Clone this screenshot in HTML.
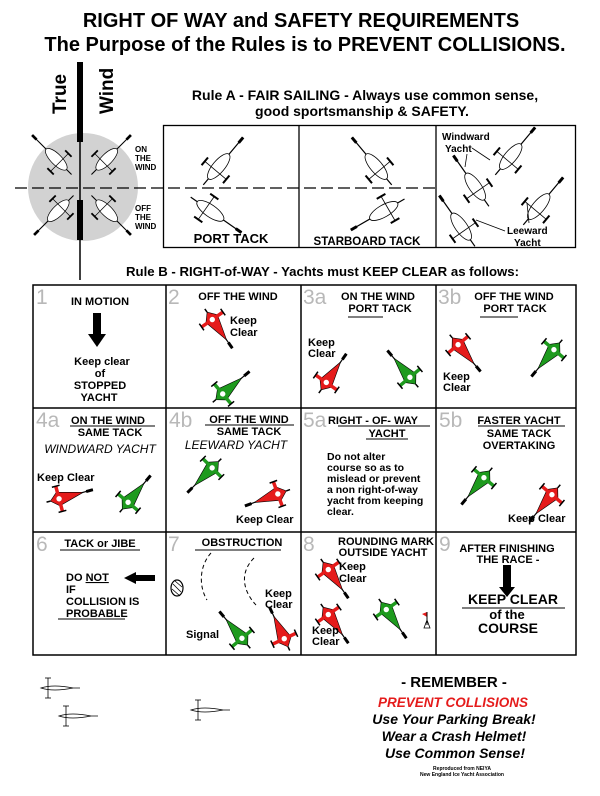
<!DOCTYPE html>
<html><head><meta charset="utf-8"><style>
html,body{margin:0;padding:0;background:#fff}
svg{display:block}
text{font-family:"Liberation Sans",Arial,sans-serif;font-weight:bold;fill:#000}
.t{font-size:11px}
.n{font-size:21px;fill:#b8b8b8;font-weight:normal}
.c{text-anchor:middle}
.i{font-style:italic;font-weight:normal;font-size:12px}
</style></head><body>
<svg width="600" height="796" viewBox="0 0 600 796" xmlns="http://www.w3.org/2000/svg">
<defs>
<g id="b">
<line x1="0" y1="-32" x2="0" y2="10" stroke="#000" stroke-width="1.2"/>
<line x1="0" y1="-32" x2="0" y2="-25" stroke="#000" stroke-width="3"/>
<polygon points="0,-22 7,4 0,12 -7,4" fill="currentColor" stroke="#000" stroke-width="0.6"/>
<line x1="-13" y1="3" x2="13" y2="3" stroke="currentColor" stroke-width="3.5"/>
<line x1="-13" y1="-1" x2="-13" y2="7" stroke="#000" stroke-width="1.5"/>
<line x1="13" y1="-1" x2="13" y2="7" stroke="#000" stroke-width="1.5"/>
<line x1="0" y1="12" x2="0" y2="16" stroke="#000" stroke-width="1.5"/>
<circle cx="0" cy="3" r="2.7" fill="#fff"/>
</g>
<g id="w">
<line x1="0" y1="-36" x2="0" y2="26" stroke="#000" stroke-width="1.2"/>
<line x1="0" y1="-36" x2="0" y2="-29" stroke="#000" stroke-width="3"/>
<ellipse cx="0" cy="2" rx="6" ry="16" fill="#fff" stroke="#000" stroke-width="0.8"/>
<line x1="-14" y1="7" x2="14" y2="7" stroke="#000" stroke-width="0.8"/>
<line x1="-14" y1="2" x2="-14" y2="12" stroke="#000" stroke-width="2"/>
<line x1="14" y1="2" x2="14" y2="12" stroke="#000" stroke-width="2"/>
</g>
</defs>

<text x="301" y="27" class="c" style="font-size:20px">RIGHT OF WAY and SAFETY REQUIREMENTS</text>
<text x="305" y="51" class="c" style="font-size:20px">The Purpose of the Rules is to PREVENT COLLISIONS.</text>

<!-- wind -->
<ellipse cx="83" cy="187" rx="55" ry="54" fill="#d2d2d2"/>
<line x1="80" y1="62" x2="80" y2="280" stroke="#000" stroke-width="1.5"/>
<rect x="77" y="62" width="6" height="80" fill="#000"/>
<rect x="77" y="200" width="6" height="40" fill="#000"/>
<text transform="translate(66,114) rotate(-90)" style="font-size:19px">True</text>
<text transform="translate(113,114) rotate(-90)" style="font-size:19px">Wind</text>
<use href="#w" transform="translate(55,158) rotate(-45) scale(0.9)"/>
<use href="#w" transform="translate(108,158) rotate(45) scale(0.9)"/>
<use href="#w" transform="translate(57,212) rotate(-135) scale(0.9)"/>
<use href="#w" transform="translate(108,212) rotate(135) scale(0.9)"/>
<text x="135" y="152" style="font-size:8px">ON</text>
<text x="135" y="161" style="font-size:8px">THE</text>
<text x="135" y="170" style="font-size:8px">WIND</text>
<text x="135" y="211" style="font-size:8px">OFF</text>
<text x="135" y="220" style="font-size:8px">THE</text>
<text x="135" y="229" style="font-size:8px">WIND</text>

<text x="365" y="100" class="c" style="font-size:14px">Rule A -  FAIR SAILING - Always use common sense,</text>
<text x="362" y="116" class="c" style="font-size:14px">good sportsmanship &amp; SAFETY.</text>

<rect x="163.5" y="125.5" width="412" height="122" fill="none" stroke="#000" stroke-width="1.3"/>
<line x1="299" y1="125" x2="299" y2="248" stroke="#000" stroke-width="1.3"/>
<line x1="436" y1="125" x2="436" y2="248" stroke="#000" stroke-width="1.3"/>
<line x1="15" y1="188" x2="436" y2="188" stroke="#000" stroke-width="1.2" stroke-dasharray="12,5"/>
<use href="#w" transform="translate(220,165) rotate(40)"/>
<use href="#w" transform="translate(212,212) rotate(125)"/>
<use href="#w" transform="translate(375,165) rotate(-40)"/>
<use href="#w" transform="translate(382,212) rotate(-120)"/>
<use href="#w" transform="translate(512,155) rotate(40)"/>
<use href="#w" transform="translate(474,185) rotate(-35)"/>
<use href="#w" transform="translate(540,205) rotate(40)"/>
<use href="#w" transform="translate(460,225) rotate(-35)"/>
<text x="231" y="243" class="c" style="font-size:13px">PORT TACK</text>
<text x="367" y="245" class="c" style="font-size:11.5px">STARBOARD TACK</text>
<text x="442" y="140" style="font-size:10px">Windward</text>
<text x="445" y="152" style="font-size:10px">Yacht</text>
<line x1="472" y1="148" x2="490" y2="160" stroke="#000" stroke-width="0.8"/>
<line x1="467" y1="154" x2="465" y2="167" stroke="#000" stroke-width="0.8"/>
<text x="507" y="234" style="font-size:10px">Leeward</text>
<text x="514" y="246" style="font-size:10px">Yacht</text>
<line x1="505" y1="231" x2="476" y2="220" stroke="#000" stroke-width="0.8"/>
<line x1="529" y1="223" x2="527" y2="203" stroke="#000" stroke-width="0.8"/>

<text x="126" y="276" style="font-size:13.2px">Rule B - RIGHT-of-WAY - Yachts must KEEP CLEAR as follows:</text>

<!-- grid -->
<g stroke="#000" stroke-width="1.5" fill="none">
<rect x="33" y="285" width="543" height="370"/>
<line x1="166" y1="285" x2="166" y2="655"/>
<line x1="301" y1="285" x2="301" y2="655"/>
<line x1="436" y1="285" x2="436" y2="655"/>
<line x1="33" y1="408" x2="576" y2="408"/>
<line x1="33" y1="532" x2="576" y2="532"/>
</g>

<!-- 1 -->
<text x="36" y="304" class="n">1</text>
<text x="100" y="305" class="t c">IN MOTION</text>
<rect x="93" y="313" width="8" height="23" fill="#000"/>
<polygon points="88,334 106,334 97,347" fill="#000"/>
<text x="102" y="365" class="t c">Keep clear</text>
<text x="100" y="377" class="t c">of</text>
<text x="100" y="389" class="t c">STOPPED</text>
<text x="99" y="401" class="t c">YACHT</text>

<!-- 2 -->
<text x="168" y="304" class="n">2</text>
<text x="238" y="300" class="t c">OFF THE WIND</text>
<use href="#b" color="#e51b1b" transform="translate(214,322) rotate(145)"/>
<text x="230" y="324" class="t">Keep</text>
<text x="230" y="336" class="t">Clear</text>
<use href="#b" color="#1e9a1e" transform="translate(225,392) rotate(50)"/>

<!-- 3a -->
<text x="303" y="304" class="n">3a</text>
<text x="378" y="300" class="t c">ON THE WIND</text>
<text x="380" y="312" class="t c">PORT TACK</text>
<line x1="348" y1="317" x2="383" y2="317" stroke="#000"/>
<text x="308" y="346" class="t">Keep</text>
<text x="308" y="357" class="t">Clear</text>
<use href="#b" color="#e51b1b" transform="translate(328,380) rotate(35)"/>
<use href="#b" color="#1e9a1e" transform="translate(408,375) rotate(-40)"/>

<!-- 3b -->
<text x="438" y="304" class="n">3b</text>
<text x="514" y="300" class="t c">OFF THE WIND</text>
<text x="515" y="312" class="t c">PORT TACK</text>
<line x1="480" y1="317" x2="518" y2="317" stroke="#000"/>
<use href="#b" color="#e51b1b" transform="translate(460,347) rotate(140)"/>
<use href="#b" color="#1e9a1e" transform="translate(552,352) rotate(-140)"/>
<text x="443" y="380" class="t">Keep</text>
<text x="443" y="391" class="t">Clear</text>

<!-- 4a -->
<text x="36" y="427" class="n">4a</text>
<text x="108" y="424" class="t c">ON THE WIND</text>
<line x1="70" y1="426" x2="155" y2="426" stroke="#000"/>
<text x="110" y="436" class="t c">SAME TACK</text>
<text x="100" y="453" class="i c">WINDWARD YACHT</text>
<text x="37" y="481" class="t">Keep Clear</text>
<use href="#b" color="#e51b1b" transform="translate(62,498) rotate(75)"/>
<use href="#b" color="#1e9a1e" transform="translate(130,500) rotate(40)"/>

<!-- 4b -->
<text x="169" y="427" class="n">4b</text>
<text x="249" y="423" class="t c">OFF THE WIND</text>
<line x1="205" y1="425" x2="294" y2="425" stroke="#000"/>
<text x="249" y="435" class="t c">SAME TACK</text>
<text x="236" y="449" class="i c">LEEWARD YACHT</text>
<use href="#b" color="#1e9a1e" transform="translate(210,470) rotate(-135)"/>
<use href="#b" color="#e51b1b" transform="translate(275,495) rotate(-110)"/>
<text x="236" y="523" class="t">Keep Clear</text>

<!-- 5a -->
<text x="303" y="427" class="n">5a</text>
<text x="373" y="424" class="t c">RIGHT - OF- WAY</text>
<line x1="338" y1="426" x2="430" y2="426" stroke="#000"/>
<text x="387" y="437" class="t c">YACHT</text>
<line x1="366" y1="439" x2="408" y2="439" stroke="#000"/>
<g class="t" style="font-size:10.5px">
<text x="327" y="460">Do not alter</text>
<text x="327" y="471">course so as to</text>
<text x="327" y="482">mislead or prevent</text>
<text x="327" y="493">a non right-of-way</text>
<text x="327" y="504">yacht from keeping</text>
<text x="327" y="515">clear.</text>
</g>

<!-- 5b -->
<text x="439" y="427" class="n">5b</text>
<text x="519" y="424" class="t c">FASTER YACHT</text>
<line x1="478" y1="426" x2="565" y2="426" stroke="#000"/>
<text x="519" y="437" class="t c">SAME TACK</text>
<text x="519" y="449" class="t c">OVERTAKING</text>
<use href="#b" color="#1e9a1e" transform="translate(482,480) rotate(-140)"/>
<use href="#b" color="#e51b1b" transform="translate(550,497) rotate(-140)"/>
<text x="508" y="522" class="t">Keep Clear</text>

<!-- 6 -->
<text x="36" y="551" class="n">6</text>
<text x="100" y="547" class="t c">TACK or JIBE</text>
<line x1="60" y1="550" x2="140" y2="550" stroke="#000"/>
<text x="66" y="581" class="t">DO <tspan text-decoration="underline">NOT</tspan></text>
<text x="66" y="593" class="t">IF</text>
<text x="66" y="605" class="t">COLLISION IS</text>
<text x="66" y="617" class="t">PROBABLE</text>
<line x1="58" y1="619" x2="125" y2="619" stroke="#000"/>
<rect x="132" y="575" width="23" height="6" fill="#000"/>
<polygon points="124,578 136,572 136,584" fill="#000"/>

<!-- 7 -->
<text x="168" y="551" class="n">7</text>
<text x="242" y="546" class="t c">OBSTRUCTION</text>
<line x1="195" y1="550" x2="281" y2="550" stroke="#000"/>
<ellipse cx="177" cy="588" rx="6" ry="8" fill="#fff" stroke="#000" stroke-width="1.2"/>
<path d="M173,584 L181,592 M172,589 L180,596 M175,581 L182,587" stroke="#000" stroke-width="0.8"/>
<path d="M211,553 C200,565 198,585 207,600" fill="none" stroke="#000" stroke-dasharray="4,3"/>
<path d="M254,558 C240,572 242,590 256,605" fill="none" stroke="#000" stroke-dasharray="4,3"/>
<text x="186" y="638" class="t">Signal</text>
<use href="#b" color="#1e9a1e" transform="translate(240,636) rotate(-40)"/>
<use href="#b" color="#e51b1b" transform="translate(283,636) rotate(-25)"/>
<text x="265" y="597" class="t">Keep</text>
<text x="265" y="608" class="t">Clear</text>

<!-- 8 -->
<text x="303" y="551" class="n">8</text>
<text x="386" y="545" class="t c">ROUNDING MARK</text>
<text x="383" y="556" class="t c">OUTSIDE YACHT</text>
<use href="#b" color="#e51b1b" transform="translate(330,572) rotate(145)"/>
<text x="339" y="570" class="t">Keep</text>
<text x="339" y="582" class="t">Clear</text>
<use href="#b" color="#e51b1b" transform="translate(330,617) rotate(145)"/>
<use href="#b" color="#1e9a1e" transform="translate(388,612) rotate(145)"/>
<text x="312" y="634" class="t">Keep</text>
<text x="312" y="645" class="t">Clear</text>
<polygon points="427,612 422,614 427,617" fill="#e51b1b"/>
<line x1="427" y1="612" x2="427" y2="625" stroke="#000"/>
<polygon points="427,620 424,628 430,628" fill="none" stroke="#000" stroke-width="0.8"/>

<!-- 9 -->
<text x="439" y="551" class="n">9</text>
<text x="507" y="552" class="t c">AFTER FINISHING</text>
<text x="508" y="563" class="t c">THE RACE -</text>
<rect x="503" y="565" width="8" height="24" fill="#000"/>
<polygon points="499,587 515,587 507,597" fill="#000"/>
<text x="513" y="604" class="c" style="font-size:14px">KEEP CLEAR</text>
<line x1="462" y1="608" x2="565" y2="608" stroke="#000"/>
<text x="507" y="619" class="c" style="font-size:13px">of the</text>
<text x="508" y="633" class="c" style="font-size:14px">COURSE</text>

<!-- small boats -->
<g stroke="#000" stroke-width="0.8" fill="#fff">
<g transform="translate(48,688)"><line x1="-7" y1="0" x2="32" y2="0"/><path d="M-7,0 Q5,-4 25,0 Q5,4 -7,0Z"/><line x1="0" y1="-10" x2="0" y2="10"/><line x1="-3" y1="-10" x2="3" y2="-10"/><line x1="-3" y1="10" x2="3" y2="10"/></g>
<g transform="translate(66,716)"><line x1="-7" y1="0" x2="32" y2="0"/><path d="M-7,0 Q5,-4 25,0 Q5,4 -7,0Z"/><line x1="0" y1="-10" x2="0" y2="10"/><line x1="-3" y1="-10" x2="3" y2="-10"/><line x1="-3" y1="10" x2="3" y2="10"/></g>
<g transform="translate(198,710)"><line x1="-7" y1="0" x2="32" y2="0"/><path d="M-7,0 Q5,-4 25,0 Q5,4 -7,0Z"/><line x1="0" y1="-10" x2="0" y2="10"/><line x1="-3" y1="-10" x2="3" y2="-10"/><line x1="-3" y1="10" x2="3" y2="10"/></g>
</g>

<text x="454" y="687" class="c" style="font-size:15px">- REMEMBER -</text>
<text x="453" y="707" class="c" style="font-size:13.5px;font-style:italic;fill:#e51b1b">PREVENT COLLISIONS</text>
<text x="454" y="724" class="c" style="font-size:14px;font-style:italic">Use Your Parking Break!</text>
<text x="454" y="741" class="c" style="font-size:14px;font-style:italic">Wear a Crash Helmet!</text>
<text x="455" y="758" class="c" style="font-size:14px;font-style:italic">Use Common Sense!</text>
<text x="462" y="770" class="c" style="font-size:5px">Reproduced from NEIYA</text>
<text x="462" y="776" class="c" style="font-size:5px">New England Ice Yacht Association</text>
</svg>
</body></html>
